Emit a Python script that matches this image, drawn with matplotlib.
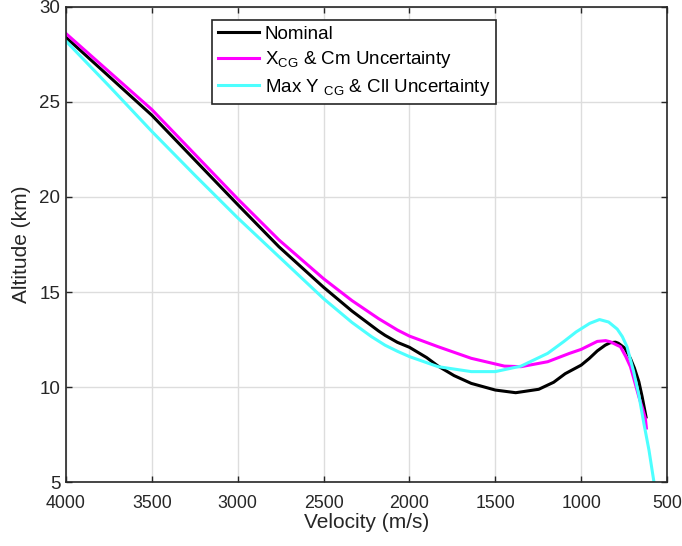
import matplotlib
matplotlib.use('Agg')
import matplotlib.pyplot as plt

plt.rcParams['font.family'] = ['Liberation Sans', 'DejaVu Sans']
plt.rcParams['mathtext.default'] = 'regular'

# velocity (m/s) and altitude (km)
v_nom = [4000, 3750, 3500, 3250, 3000, 2760, 2500, 2335, 2180, 2142, 2070, 2000, 1900, 1833,
         1740, 1640, 1500, 1381, 1247, 1160, 1093, 1000, 953, 906, 860, 831, 800, 783, 746,
         713, 690, 664, 645, 622]
h_nom = [28.4, 26.35, 24.3, 21.95, 19.6, 17.38, 15.25, 14.0, 12.95, 12.72, 12.35, 12.09, 11.55, 11.1,
         10.6, 10.19, 9.84, 9.70, 9.88, 10.25, 10.7, 11.15, 11.5, 11.9, 12.2, 12.33, 12.36, 12.3, 12.05,
         11.5, 11.0, 10.28, 9.5, 8.42]

v_xcg = [4000, 3750, 3500, 3250, 3000, 2760, 2500, 2335, 2180, 2070, 2000, 1833, 1640,
         1447, 1350, 1195, 1068, 1000, 906, 857, 830, 790, 771, 740, 713, 692, 664, 640,
         626, 620]
h_xcg = [28.6, 26.6, 24.6, 22.25, 19.9, 17.74, 15.7, 14.55, 13.6, 13.0, 12.68, 12.12, 11.51,
         11.1, 11.07, 11.33, 11.77, 11.98, 12.4, 12.44, 12.38, 12.2, 12.12, 11.6, 11.07, 10.4, 9.49, 8.8,
         8.35, 7.84]

v_ycg = [4000, 3750, 3500, 3250, 3000, 2760, 2500, 2335, 2221, 2142, 2070, 2000, 1833, 1640,
         1500, 1350, 1195, 1100, 1029, 950, 893, 840, 790, 760, 733, 694, 664, 635, 605, 576]
h_ycg = [28.2, 25.85, 23.45, 21.15, 18.9, 16.86, 14.65, 13.4, 12.65, 12.2, 11.88, 11.6, 11.07, 10.81,
         10.81, 11.1, 11.77, 12.4, 12.9, 13.35, 13.55, 13.42, 13.05, 12.65, 12.12, 10.8, 9.58, 8.1, 6.68, 5.0]

labels = ['Nominal', 'X$_{CG}$ & Cm Uncertainty', 'Max Y $_{CG}$ & Cll Uncertainty']
colors = ['black', '#ff00ff', '#4dffff']

x_ticks = [4000, 3500, 3000, 2500, 2000, 1500, 1000, 500]
y_ticks = [5, 10, 15, 20, 25, 30]

fig = plt.figure(figsize=(6.82, 5.46), dpi=100)
ax = fig.add_axes([0.0968, 0.1172, 0.8812, 0.87])

for v, h, lab, c in zip([v_nom, v_xcg, v_ycg], [h_nom, h_xcg, h_ycg], labels, colors):
    ax.plot(v, h, color=c, lw=2.2, label=lab, solid_joinstyle='round')

ax.set_xlim(4000, 500)
ax.set_ylim(5, 30)
ax.set_xticks(x_ticks)
ax.set_yticks(y_ticks)
ax.grid(True, color='#dddddd', lw=1)
ax.set_axisbelow(True)
ax.tick_params(direction='in', length=4, width=1, top=True, right=True,
               labelsize=13.5, colors='#262626', labelcolor='#262626')
ax.tick_params(axis='x', pad=9, labelsize=12.8)
ax.tick_params(axis='y', pad=4)
for sp in ax.spines.values():
    sp.set_color('#262626')
    sp.set_linewidth(1.2)

ax.set_xlabel('Velocity (m/s)', fontsize=15, color='#262626', labelpad=1)
ax.set_ylabel('Altitude (km)', fontsize=15, color='#262626', labelpad=6)

leg = ax.legend(loc='upper left', bbox_to_anchor=(0.243, 0.9726), borderaxespad=0,
                fontsize=13.5, frameon=True, fancybox=False, handlelength=2.2,
                handletextpad=0.3, borderpad=0.3, labelspacing=0.35)
leg.get_frame().set_edgecolor('#262626')
leg.get_frame().set_linewidth(1.2)
leg.get_frame().set_alpha(1)

fig.savefig('out.png', dpi=100)
